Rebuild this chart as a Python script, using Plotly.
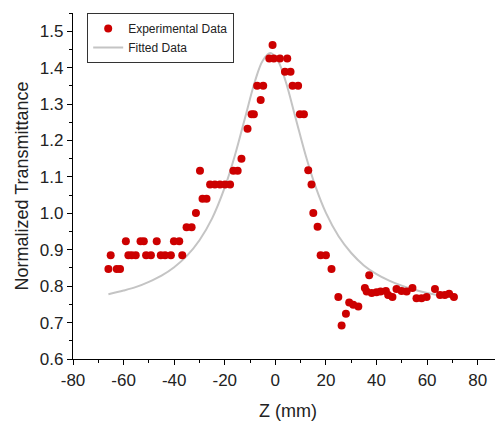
import plotly.graph_objects as go

exp_z = [-66.0, -65.1, -62.7, -61.4, -59.1, -58.1, -56.8, -55.2, -53.3, -52.0,
         -51.1, -49.2, -46.9, -45.3, -43.6, -41.3, -40.1, -38.0, -36.8, -35.1,
         -33.1, -31.4, -29.8, -28.8, -27.2, -25.8, -23.9, -21.9, -19.9, -17.9,
         -16.6, -14.9, -13.4, -11.0, -9.4, -8.5, -7.2, -5.8, -4.8, -2.4,
         -1.1, -0.6, 1.8, 3.8, 4.7, 6.0, 6.8, 9.0, 9.7, 11.3,
         13.0, 14.3, 15.0, 16.7, 17.9, 20.0, 22.2, 24.9, 26.2, 27.9,
         29.2, 30.8, 32.8, 35.4, 36.1, 37.1, 38.1, 40.0, 41.6, 43.7,
         44.6, 46.3, 47.9, 49.9, 51.9, 54.2, 55.8, 57.8, 59.8, 63.1,
         65.1, 67.0, 68.7, 70.6]
exp_t = [0.847, 0.885, 0.847, 0.847, 0.923, 0.885, 0.885, 0.885, 0.923, 0.923,
         0.885, 0.885, 0.923, 0.885, 0.885, 0.885, 0.923, 0.923, 0.885, 0.962,
         0.962, 1.001, 1.117, 1.040, 1.040, 1.079, 1.079, 1.079, 1.079, 1.079,
         1.117, 1.117, 1.150, 1.232, 1.272, 1.272, 1.350, 1.311, 1.350, 1.425,
         1.462, 1.425, 1.425, 1.389, 1.425, 1.389, 1.350, 1.350, 1.272, 1.272,
         1.118, 1.079, 1.001, 0.963, 0.885, 0.885, 0.847, 0.770, 0.692, 0.724,
         0.755, 0.749, 0.744, 0.795, 0.785, 0.830, 0.781, 0.783, 0.785, 0.787,
         0.776, 0.770, 0.792, 0.787, 0.785, 0.795, 0.767, 0.767, 0.770, 0.792,
         0.776, 0.776, 0.779, 0.770]

# Fitted curve
fit_z = [-66, -60, -55, -50, -45, -40, -35, -30, -25, -20, -16, -12, -8, -5, -2,
         1, 4, 8, 12, 16, 20, 25, 30, 35, 40, 45, 50, 55, 60, 65, 70]
fit_t = [0.778, 0.788, 0.798, 0.812, 0.829, 0.852, 0.883, 0.926, 0.986, 1.071,
         1.159, 1.262, 1.364, 1.419, 1.440, 1.419, 1.364, 1.262, 1.159, 1.071,
         1.001, 0.937, 0.891, 0.857, 0.833, 0.815, 0.801, 0.790, 0.781, 0.774, 0.769]

x_ticks = [-80, -60, -40, -20, 0, 20, 40, 60, 80]
x_labels = ["-80", "-60", "-40", "-20", "0", "20", "40", "60", "80"]
y_ticks = [0.6, 0.7, 0.8, 0.9, 1.0, 1.1, 1.2, 1.3, 1.4, 1.5]
y_labels = ["0.6", "0.7", "0.8", "0.9", "1.0", "1.1", "1.2", "1.3", "1.4", "1.5"]

FONT = "Liberation Sans, Arial, sans-serif"

fig = go.Figure()
fig.add_trace(go.Scatter(
    x=fit_z, y=fit_t, mode="lines", name="Fitted Data",
    line=dict(color="#c4c4c4", width=2, shape="spline", smoothing=1.0),
))
fig.add_trace(go.Scatter(
    x=exp_z, y=exp_t, mode="markers", name="Experimental Data",
    marker=dict(color="#cc0000", size=8, symbol="circle"),
))

axis_common = dict(
    showline=True, linecolor="black", linewidth=1.2, mirror=False,
    ticks="outside", ticklen=5, tickcolor="black", tickwidth=1.2,
    showgrid=False, zeroline=False, automargin=False,
    tickfont=dict(family=FONT, size=17, color="#222"),
)

# page body has an 8px default margin, so the figure is drawn 8px smaller
fig.update_layout(
    width=495, height=413,
    margin=dict(l=65, r=0, t=5, b=62),
    paper_bgcolor="white", plot_bgcolor="white",
    font=dict(family=FONT, color="#222"),
    xaxis=dict(
        range=[-80, 90], tickmode="array", tickvals=x_ticks, ticktext=x_labels,
        minor=dict(ticks="outside", ticklen=3, dtick=10, tick0=-80, tickcolor="black"),
        title=dict(text="Z (mm)", font=dict(size=18), standoff=22),
        **axis_common,
    ),
    yaxis=dict(
        range=[0.6, 1.55], tickmode="array", tickvals=y_ticks, ticktext=y_labels,
        minor=dict(ticks="outside", ticklen=3, dtick=0.05, tick0=0.6, tickcolor="black"),
        title=dict(text="Normalized Transmittance", font=dict(size=18), standoff=6),
        **axis_common,
    ),
    legend=dict(
        x=0.033, y=1.0, xanchor="left", yanchor="top",
        bgcolor="white", bordercolor="#333", borderwidth=1,
        font=dict(family=FONT, size=12, color="#222"),
        traceorder="reversed", tracegroupgap=0,
        itemwidth=30,
    ),
    showlegend=True,
)

fig.write_html("out.html")
